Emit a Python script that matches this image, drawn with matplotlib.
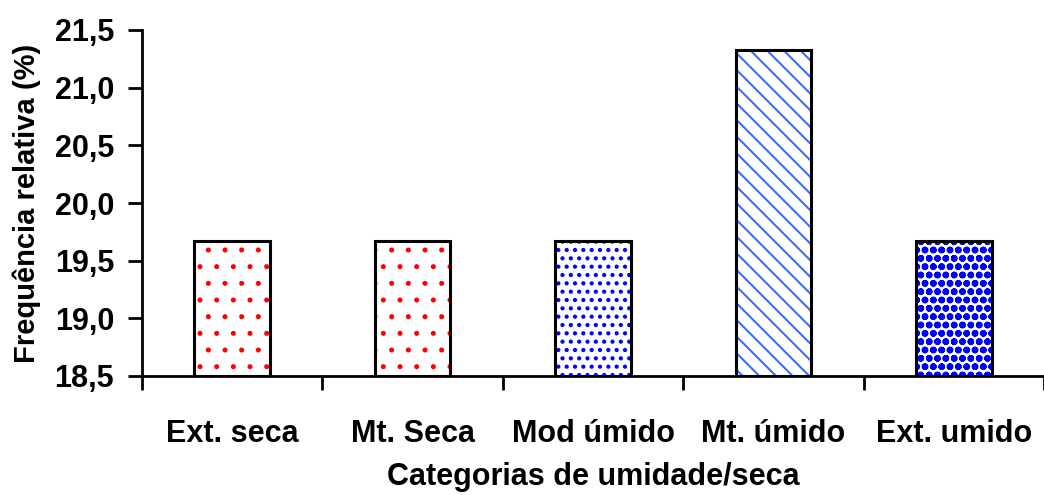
import numpy as np
import matplotlib
matplotlib.use("Agg")
import matplotlib.pyplot as plt
from matplotlib.ticker import FuncFormatter

categorias = ["Ext. seca", "Mt. Seca", "Mod úmido", "Mt. úmido", "Ext. umido"]
frequencia = [19.67, 19.67, 19.67, 21.33, 19.67]
y_ticks = [18.5, 19.0, 19.5, 20.0, 20.5, 21.0, 21.5]

hatches = [".", ".", "..", "\\\\", "oo"]
hatch_cols = ["#ff0000", "#ff0000", "#0000ff", "#3366ff", "#0000ff"]
hatch_lw = [1.2, 1.2, 1.8, 1.4, 2.4]

plt.rcParams['font.family'] = ['Liberation Sans', 'DejaVu Sans']
plt.rcParams['font.weight'] = 'bold'

fig = plt.figure(figsize=(10.44, 4.95), dpi=100)
ax = fig.add_axes([142/1044, 1 - 376/495, 1 - 142/1044, (376 - 30)/495])

x = np.arange(len(categorias)) + 0.5
for xi, v, h, c, hl in zip(x, frequencia, hatches, hatch_cols, hatch_lw):
    plt.rcParams['hatch.linewidth'] = hl
    ax.bar(xi, v - 18.5, bottom=18.5, width=0.42, color="white", edgecolor=c, hatch=h, lw=0)
    ax.bar(xi, v - 18.5, bottom=18.5, width=0.42, fill=False, edgecolor="black", lw=2.2)

ax.set_xlim(0, len(categorias))
ax.set_ylim(18.5, 21.5)
ax.set_yticks(y_ticks)
ax.yaxis.set_major_formatter(FuncFormatter(lambda v, p: f"{v:.1f}".replace(".", ",")))
ax.set_xticks(np.arange(len(categorias) + 1))
ax.set_xticklabels([])
ax.set_xticks(x, minor=True)
ax.set_xticklabels(categorias, minor=True)

ax.tick_params(axis="y", direction="out", length=10, width=2, labelsize=22, pad=10)
ax.tick_params(axis="x", which="major", direction="out", length=10, width=2)
ax.tick_params(axis="x", which="minor", length=0, labelsize=22, pad=31)

for s in ["top", "right"]:
    ax.spines[s].set_visible(False)
for s in ["left", "bottom"]:
    ax.spines[s].set_linewidth(2)

ax.set_ylabel("Frequência relativa (%)", fontsize=21, fontweight="bold", labelpad=10)
ax.set_xlabel("Categorias de umidade/seca", fontsize=22, fontweight="bold", labelpad=9)

fig.savefig("out.png", dpi=100)
